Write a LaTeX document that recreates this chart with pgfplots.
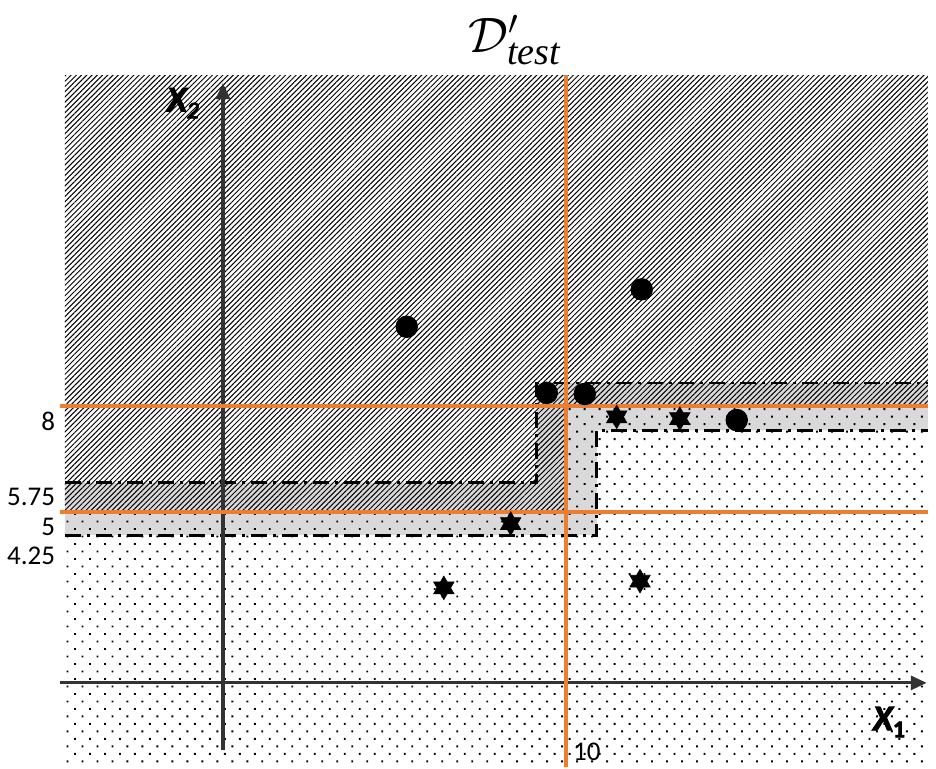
\documentclass[border=0pt]{standalone}
\usepackage{pgfplots}
\pgfplotsset{compat=1.18}
\usepackage{fontspec}
\setmainfont{Carlito}
\newfontfamily\tnr{Liberation Serif}
\newfontfamily\xfont[FakeBold=2.5]{Carlito}
\usetikzlibrary{patterns.meta,arrows.meta}
\definecolor{myorange}{HTML}{ED7D31}
\definecolor{axgray}{HTML}{333333}
\pgfdeclareplotmark{hexstar}{%
 \pgfpathmoveto{\pgfqpointpolar{90}{\pgfplotmarksize}}%
 \pgfpathlineto{\pgfqpointpolar{210}{\pgfplotmarksize}}%
 \pgfpathlineto{\pgfqpointpolar{330}{\pgfplotmarksize}}%
 \pgfpathclose
 \pgfpathmoveto{\pgfqpointpolar{270}{\pgfplotmarksize}}%
 \pgfpathlineto{\pgfqpointpolar{30}{\pgfplotmarksize}}%
 \pgfpathlineto{\pgfqpointpolar{150}{\pgfplotmarksize}}%
 \pgfpathclose
 \pgfusepathqfillstroke}
\begin{document}
\begin{tikzpicture}
\begin{axis}[
  x=17.15pt, y=17.665pt,
  xmin=-6.50, xmax=20.79, ymin=-2.22, ymax=19.49,
  hide axis, clip=false,
]
% invisible frame for the bounding box
\addplot[draw=none] coordinates {(-6.50,-2.22) (20.79,19.49)};
% grey band
\addplot[draw=none, fill=black!15] coordinates {
 (-4.61,5.83) (9.15,5.83) (9.15,8.65) (20.55,8.65)
 (20.55,7.31) (10.90,7.31) (10.90,4.34) (-4.61,4.34)} -- cycle;
% hatched region
\addplot[draw=none, pattern={Lines[angle=45,distance=1.85pt,line width=0.5pt]}, pattern color=black] coordinates {
 (-4.61,5) (10,5) (10,8) (20.55,8) (20.55,17.36) (-4.61,17.36)} -- cycle;
% dotted region
\addplot[draw=none, pattern={Dots[angle=45,distance=5.3pt,radius=0.65pt]}, pattern color=black] coordinates {
 (-4.61,-2.22) (20.55,-2.22) (20.55,8) (10,8) (10,5) (-4.61,5)} -- cycle;
% dashed boundaries
\addplot[black, line width=1.4pt, dash pattern=on 8pt off 3pt on 1.5pt off 3pt] coordinates {
 (-4.61,5.83) (9.15,5.83) (9.15,8.65) (20.55,8.65)};
\addplot[black, line width=1.4pt, dash pattern=on 8pt off 3pt on 1.5pt off 3pt] coordinates {
 (-4.61,4.34) (10.90,4.34) (10.90,7.31) (20.55,7.31)};
% axes
\addplot[axgray, line width=1.6pt, -{Triangle[length=8pt,width=7pt]}] coordinates {(-4.75,0.16) (20.52,0.16)};
\addplot[axgray, line width=1.6pt, -{Triangle[length=8pt,width=7pt]}] coordinates {(0,-1.74) (0,17.14)};
% orange split lines
\addplot[myorange, line width=1.9pt] coordinates {(-4.75,8) (20.55,8)};
\addplot[myorange, line width=1.9pt] coordinates {(-4.75,5) (20.55,5)};
\addplot[myorange, line width=1.9pt] coordinates {(10,17.36) (10,-2.22)};
% circles
\addplot[only marks, mark=*, mark size=5.4pt, black] coordinates {
 (5.36,10.24) (12.21,11.30) (9.44,8.37) (10.55,8.34) (14.98,7.60)};
% stars
\addplot[only marks, mark=hexstar, mark size=5.9pt, black, mark options={line width=0.3pt}] coordinates {
 (8.39,4.67) (11.48,7.69) (13.32,7.64) (6.44,2.85) (12.16,3.04)};
% labels
\node[anchor=east, font=\fontsize{13.5}{15}\selectfont] at (axis cs:-4.69,7.57) {8};
\node[anchor=east, font=\fontsize{13.5}{15}\selectfont] at (axis cs:-4.69,5.42) {5.75};
\node[anchor=east, font=\fontsize{13.5}{15}\selectfont] at (axis cs:-4.69,4.57) {5};
\node[anchor=east, font=\fontsize{13.5}{15}\selectfont] at (axis cs:-4.69,3.75) {4.25};
\node[font=\fontsize{13.5}{15}\selectfont] at (axis cs:10.61,-1.80) {10};
\node at (axis cs:-1.17,16.57) {\xfont\fontsize{18}{20}\selectfont\bfseries\itshape X\raisebox{-0.4ex}{\fontsize{12}{13}\selectfont\mdseries 2}};
\node at (axis cs:19.42,-0.95) {\xfont\fontsize{18}{20}\selectfont\bfseries\itshape X\raisebox{-0.4ex}{\fontsize{12}{13}\selectfont\upshape 1}};
\node at (axis cs:8.51,18.35) {\fontsize{25}{28}\selectfont$\mathcal{D}'_{\hbox{\fontsize{19}{21}\selectfont\tnr\itshape test}}$};
\end{axis}
\end{tikzpicture}
\end{document}
